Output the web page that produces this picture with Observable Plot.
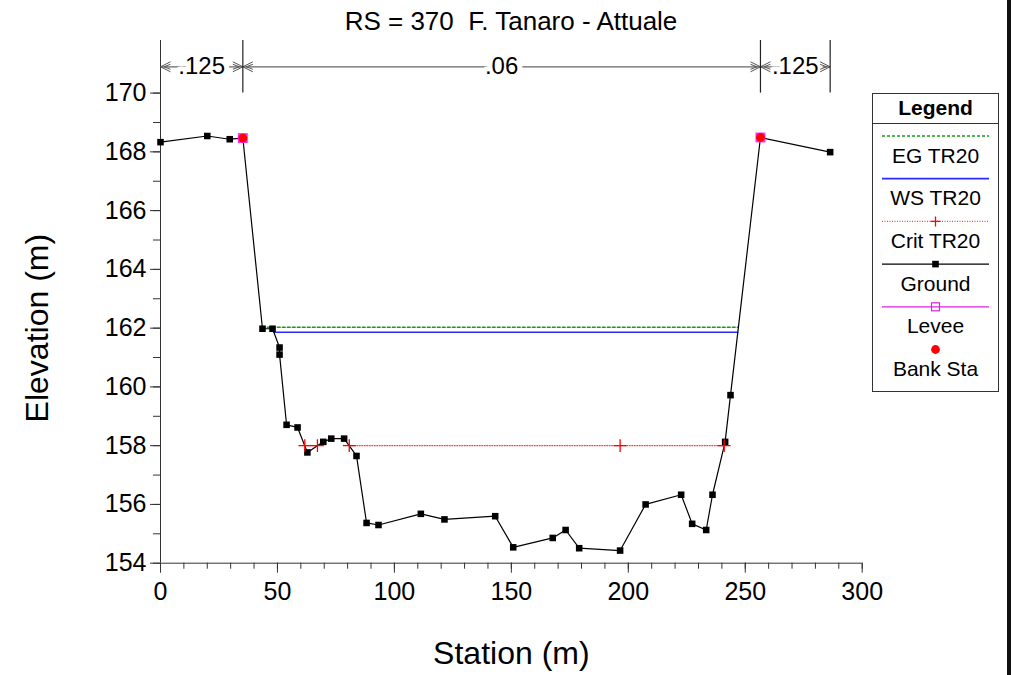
<!DOCTYPE html>
<html>
<head>
<meta charset="utf-8">
<script src="https://cdn.jsdelivr.net/npm/d3@7"></script>
<script src="https://cdn.jsdelivr.net/npm/@observablehq/plot@0.6"></script>
<style>
  html, body { margin: 0; padding: 0; background: #fff; }
  #wrap { position: relative; width: 1011px; height: 675px; overflow: hidden;
          font-family: "Liberation Sans", Arial, sans-serif; color: #000; }
  #chart { position: absolute; left: 0; top: 0; }
  #title { position: absolute; left: 160px; top: 6px; width: 702px; text-align: center;
           font-size: 26px; line-height: 30px; white-space: pre; }
  #legend { position: absolute; left: 872px; top: 93px; }
  #bar { position: absolute; left: 1007px; top: 0; width: 4px; height: 675px; background: #111; }
</style>
</head>
<body>
<div id="wrap">
  <div id="chart"></div>
  <div id="title">RS = 370  F. Tanaro - Attuale</div>
  <div id="legend"></div>
  <div id="bar"></div>
</div>
<script>
// ---------- data ----------
const groundStation = [0, 20.0, 29.6, 35.2, 43.6, 47.9, 50.9, 50.9, 53.9, 58.6, 62.8, 69.6, 73.0, 78.5, 83.8,
  88.1, 93.2, 111.3, 121.4, 143.1, 150.8, 167.7, 173.2, 179.0, 196.5, 207.4, 222.6, 227.3, 233.3, 236.0,
  241.4, 243.7, 256.5, 286.3];
const groundElev = [168.33, 168.54, 168.43, 168.47, 161.98, 161.98, 161.34, 161.10, 158.71, 158.62, 157.77, 158.13, 158.24, 158.24, 157.65,
  155.37, 155.30, 155.68, 155.49, 155.60, 154.54, 154.86, 155.13, 154.51, 154.43, 156.00, 156.33, 155.34, 155.13, 156.33,
  158.13, 159.72, 168.49, 167.99];
const bankStation = [35.2, 256.5];
const bankElev = [168.47, 168.49];
const egStation = [43.5, 247.1];
const egElev = 162.03;
const wsStation = [48.5, 246.8];
const wsElev = 161.86;
const critStation = [61.7, 67.1, 80.7, 196.5, 241.0];
const critSegment = [0, 0, 1, 1, 1];
const critElev = 158.0;
const nBreaks = [0, 35.2, 256.5, 286.3];
const nValues = [".125", ".06", ".125"];
const xMajor = [0, 50, 100, 150, 200, 250, 300];
const xMinor = d3.range(0, 301, 10);
const yMajor = [154, 156, 158, 160, 162, 164, 166, 168, 170];
const yMinor = d3.range(154, 171, 1);
const yTop = 171.79;
const legendNames = ["EG TR20", "WS TR20", "Crit TR20", "Ground", "Levee", "Bank Sta"];

// ---------- derived tables ----------
const ground = groundStation.map((s, i) => ({s, e: groundElev[i]}));
const banks = bankStation.map((s, i) => ({s, e: bankElev[i]}));
const crit = critStation.map((s, i) => ({s, e: critElev, g: critSegment[i]}));
const nSegs = nValues.map((t, i) => ({x1: nBreaks[i], x2: nBreaks[i + 1], t}));
const nY = (yMajor[yMajor.length - 1] + yTop) / 2;
const yMid = (yMajor[0] + yMajor[yMajor.length - 1]) / 2;

// open double chevrons (custom symbols), tip at the mark position
const chevronLeft = {draw(ctx) {
  ctx.moveTo(10, -5); ctx.lineTo(0, 0); ctx.lineTo(10, 5);
  ctx.moveTo(10, -2.5); ctx.lineTo(3.5, 0); ctx.lineTo(10, 2.5);
}};
const chevronRight = {draw(ctx) {
  ctx.moveTo(-10, -5); ctx.lineTo(0, 0); ctx.lineTo(-10, 5);
  ctx.moveTo(-10, -2.5); ctx.lineTo(-3.5, 0); ctx.lineTo(-10, 2.5);
}};

const axisColor = "#333";
const chart = Plot.plot({
  width: 1011, height: 675,
  marginLeft: 160, marginRight: 149.3, marginTop: 40, marginBottom: 112.3,
  x: {domain: [0, 300]},
  y: {domain: [154, yTop]},
  style: {fontFamily: '"Liberation Sans", Arial, sans-serif', background: "transparent", color: "#000"},
  marks: [
    // axes
    Plot.axisX({ticks: xMinor, tickSize: 6, tickFormat: () => "", label: null, stroke: axisColor}),
    Plot.axisX({ticks: xMajor, tickSize: 10, tickPadding: 9, fontSize: 25, label: null, stroke: axisColor, fill: "#000"}),
    Plot.axisY({ticks: yMinor, tickSize: 7, tickFormat: () => "", label: null, stroke: axisColor}),
    Plot.axisY({ticks: yMajor, tickSize: 10, tickPadding: 4, fontSize: 25, label: null, stroke: axisColor, fill: "#000"}),
    Plot.ruleX([0], {stroke: axisColor}),
    Plot.ruleY([154], {stroke: axisColor}),
    Plot.text(["Station (m)"], {frameAnchor: "bottom", lineAnchor: "middle", textAnchor: "middle", dy: 91, fontSize: 32, fill: "#000"}),
    Plot.text(["Elevation (m)"], {y: [yMid], frameAnchor: "left", textAnchor: "middle", lineAnchor: "middle",
      dx: -123, rotate: -90, fontSize: 32, fill: "#000"}),
    // Manning n annotation
    Plot.link(nSegs, {x1: "x1", x2: "x2", y1: nY, y2: nY, stroke: "#666", strokeWidth: 1.2}),
    Plot.text(nSegs, {x: d => (d.x1 + d.x2) / 2, y: nY, text: "t", fontSize: 24, fill: "#000",
      stroke: "white", strokeWidth: 10, paintOrder: "stroke", strokeLinejoin: "round"}),
    Plot.dot(nSegs, {x: "x1", y: nY, symbol: chevronLeft, stroke: "#555", fill: "none", strokeWidth: 1}),
    Plot.dot(nSegs, {x: "x2", y: nY, symbol: chevronRight, stroke: "#555", fill: "none", strokeWidth: 1}),
    Plot.ruleX(nBreaks.slice(1), {y1: yMajor[yMajor.length - 1], y2: yTop, stroke: "#222", strokeWidth: 1.2}),
    // water surfaces
    Plot.line(egStation, {x: d => d, y: egElev, stroke: "#1a9a1a", strokeWidth: 1.3, strokeDasharray: "3,2"}),
    Plot.line(wsStation, {x: d => d, y: wsElev, stroke: "#2a2aff", strokeWidth: 1.7}),
    Plot.line(crit, {x: "s", y: "e", z: "g", stroke: "#ff4040", strokeWidth: 1.1, strokeDasharray: "1,1.5"}),
    // ground
    Plot.line(ground, {x: "s", y: "e", stroke: "#000", strokeWidth: 1.2}),
    Plot.dot(ground, {x: "s", y: "e", symbol: "square", fill: "#000", r: 3.7}),
    Plot.dot(crit, {x: "s", y: "e", symbol: "plus", stroke: "#ff0000", strokeWidth: 1.3, r: 4.2}),
    // levee / bank stations
    Plot.dot(banks, {x: "s", y: "e", symbol: "square", fill: "#ff30ff", r: 5.6}),
    Plot.dot(banks, {x: "s", y: "e", symbol: "circle", fill: "#ff0000", r: 4.4})
  ]
});
document.getElementById("chart").appendChild(chart);

// ---------- legend ----------
const LW = 127, LH = 299;
const lsvg = d3.select("#legend").append("svg").attr("width", LW).attr("height", LH)
  .style("font-family", '"Liberation Sans", Arial, sans-serif');
lsvg.append("rect").attr("x", 0.5).attr("y", 0.5).attr("width", LW - 1).attr("height", LH - 1)
  .attr("fill", "#fff").attr("stroke", "#333");
lsvg.append("line").attr("x1", 0).attr("x2", LW).attr("y1", 30.5).attr("y2", 30.5).attr("stroke", "#333");
lsvg.append("text").attr("x", LW / 2).attr("y", 14).attr("text-anchor", "middle")
  .attr("dominant-baseline", "central").attr("font-size", 21).attr("font-weight", "bold").text("Legend");
const styles = [
  {stroke: "#1a9a1a", dash: "3,2", w: 1.3},
  {stroke: "#2a2aff", dash: null, w: 1.7},
  {stroke: "#ff4040", dash: "1,1.5", w: 1.1},
  {stroke: "#000", dash: null, w: 1.2},
  {stroke: "#e020e0", dash: null, w: 1.2},
  null
];
const cx = 63.5;
legendNames.forEach((name, i) => {
  const ly = 43 + i * 42.7;
  const st = styles[i];
  if (st) {
    const l = lsvg.append("line").attr("x1", 10).attr("x2", 117).attr("y1", ly).attr("y2", ly)
      .attr("stroke", st.stroke).attr("stroke-width", st.w);
    if (st.dash) l.attr("stroke-dasharray", st.dash);
  }
  if (name === "Crit TR20") {
    lsvg.append("path").attr("d", `M${cx - 5},${ly}h10M${cx},${ly - 5}v10`).attr("stroke", "#ff0000").attr("stroke-width", 1.3);
  } else if (name === "Ground") {
    lsvg.append("rect").attr("x", cx - 3.3).attr("y", ly - 3.3).attr("width", 6.6).attr("height", 6.6).attr("fill", "#000");
  } else if (name === "Levee") {
    lsvg.append("rect").attr("x", cx - 4).attr("y", ly - 4).attr("width", 8).attr("height", 8)
      .attr("fill", "none").attr("stroke", "#e020e0").attr("stroke-width", 1.2);
  } else if (name === "Bank Sta") {
    lsvg.append("circle").attr("cx", cx).attr("cy", ly).attr("r", 4.4).attr("fill", "#ff0000");
  }
  lsvg.append("text").attr("x", cx).attr("y", ly + 19).attr("text-anchor", "middle")
    .attr("dominant-baseline", "central").attr("font-size", 21).text(name);
});
</script>
</body>
</html>
